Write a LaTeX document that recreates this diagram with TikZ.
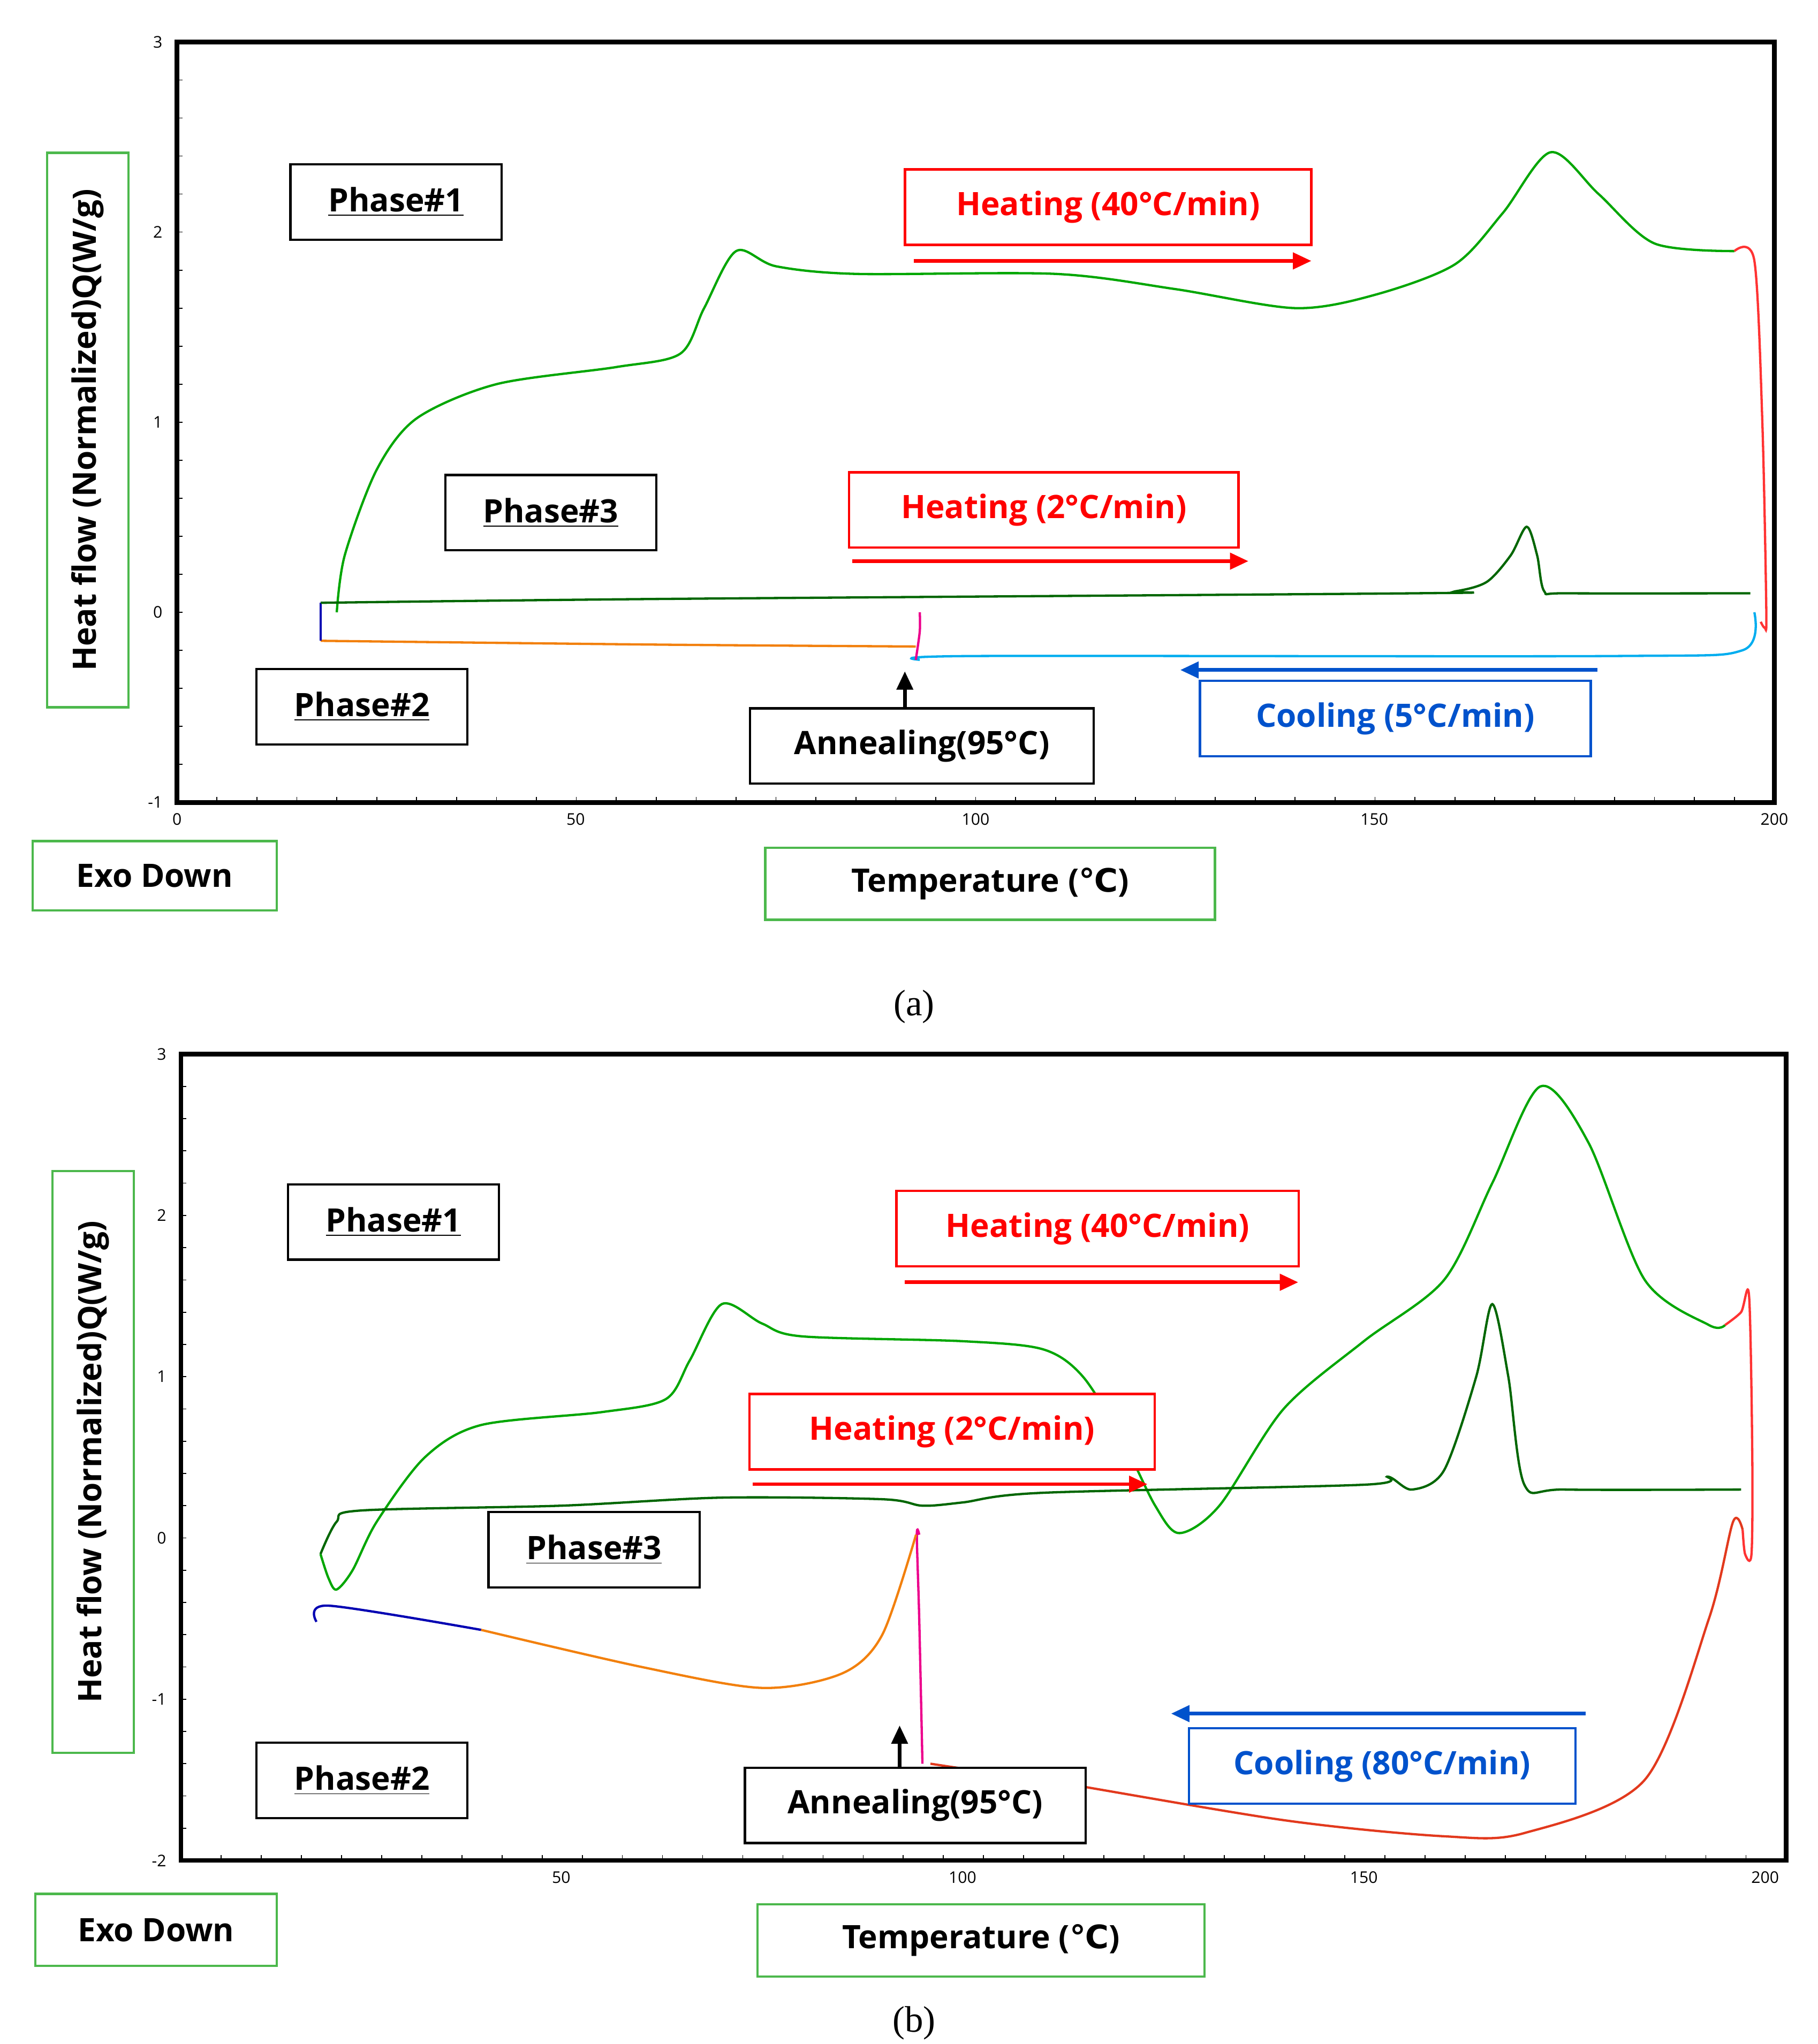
\documentclass[tikz,border=0pt]{standalone}
\usepackage{fontspec}
\setmainfont{Open Sans}
\newfontfamily\capfont{Liberation Serif}
\newfontfamily\degfont{DejaVu Sans}
\usetikzlibrary{positioning}
\usetikzlibrary{arrows.meta}

\newcommand{\degc}{{\degfont\bfseries ℃}}

\tikzset{
  lab/.style={draw=black,line width=1pt,fill=white,font=\fontsize{14}{16}\selectfont\bfseries,minimum height=1.15cm,inner sep=2pt},
  redlab/.style={lab,draw=red,text=red},
  bluelab/.style={lab,draw=blue!60!cyan!80!black,text=blue!60!cyan!80!black},
  greenlab/.style={lab,draw=green!60!black!70},
  arr/.style={-{Triangle[length=8pt,width=7pt]},line width=1.6pt},
  tick/.style={font=\fontsize{7}{8}\selectfont},
  curve/.style={line width=1pt,smooth,tension=0.5}
}

\begin{document}
\begin{tikzpicture}[x=0.02cm,y=-0.02cm]
\useasboundingbox (0,0) rectangle (1386,1559);
%% panel (a)
\draw[line width=2pt] (135,32) rectangle (1353,612);
\foreach \v/\py in {3/32,2/177,1/322,0/467,-1/612}
  \node[tick,left] at (130,\py) {\v};
\foreach \v/\px in {0/135,50/439,100/744,150/1048,200/1353}
  \node[tick,below] at (\px,614) {\v};
\foreach \i in {0,...,40} \draw (135+\i*30.45,612) -- ++(0,-4);
\foreach \i in {0,...,20} \draw (135,32+\i*29) -- ++(4,0);
\begin{scope}[shift={(135,467)},xscale=6.09,yscale=-145]
  \draw[curve,green!65!black] plot coordinates {(20,0) (21,0.3) (25,0.75) (30,1.02) (40,1.2) (55,1.29) (63,1.36) (66,1.6) (70,1.9) (75,1.82) (85,1.78) (110,1.78) (125,1.7) (140,1.6) (150,1.67) (160,1.83) (166,2.1) (172,2.42) (178,2.2) (185,1.94) (195,1.9)};
  \draw[curve,red!80] plot coordinates {(195,1.9) (197.5,1.85) (198.5,1.0) (199,0) (198.8,-0.08) (198.3,-0.05)};
  \draw[curve,cyan] plot coordinates {(197.5,0) (196,-0.2) (180,-0.23) (100,-0.23) (93,-0.25)};
  \draw[curve,magenta] plot coordinates {(92.5,-0.25) (93,-0.1) (93,0)};
  \draw[curve,orange!80!brown] plot coordinates {(92.5,-0.18) (60,-0.17) (18,-0.15)};
  \draw[line width=1pt,blue!70!black] (18,-0.15) -- (18,0.05);
  \draw[curve,green!40!black] plot coordinates {(18,0.05) (60,0.07) (155,0.1) (160,0.11) (164,0.16) (167,0.3) (169,0.45) (170.3,0.3) (171.2,0.11) (174,0.1) (197,0.1)};
\end{scope}
\node[lab,minimum width=3.22cm] (ph1a) at (302,154) {\underline{Phase\#1}};
\node[redlab,minimum width=6.2cm] (h40a) at (845,158) {Heating (40°C/min)};
\node[lab,minimum width=3.22cm] (ph3a) at (420,391) {\underline{Phase\#3}};
\node[redlab,minimum width=5.94cm] (h2a) at (796,389) {Heating (2°C/min)};
\node[lab,minimum width=3.22cm] (ph2a) at (276,539) {\underline{Phase\#2}};
\node[lab,minimum width=5.24cm] (anna) at (703,569) {Annealing(95°C)};
\node[bluelab,minimum width=5.96cm] (coola) at (1064,548) {Cooling (5°C/min)};
\node[greenlab,minimum width=8.46cm,minimum height=1.24cm,rotate=90] (ya) at (67,328) {Heat flow (Normalized)Q(W/g)};
\node[greenlab,minimum width=3.72cm,minimum height=1.06cm] (exoa) at (118,668) {Exo Down};
\node[greenlab,minimum width=6.86cm,minimum height=1.1cm] (tempa) at (755,674) {Temperature (\degc)};
\node[font=\fontsize{16}{18}\selectfont\capfont] (capa) at (697,768) {(a)};
\coordinate (h40as) at (697,199); \coordinate (h40ae) at (1000,199);
\coordinate (h2as) at (650,428); \coordinate (h2ae) at (952,428);
\coordinate (coolas) at (1218,511); \coordinate (coolae) at (900,511);
\coordinate (annae) at (690,512);
\draw[arr,red] (h40as) -- (h40ae);
\draw[arr,red] (h2as) -- (h2ae);
\draw[arr,blue!60!cyan!80!black] (coolas) -- (coolae);
\draw[arr,black] (anna.north -| annae) -- (annae);
%% panel (b)
\draw[line width=2pt] (138,804) rectangle (1362,1419);
\foreach \v/\py in {3/804,2/927,1/1050,0/1173,-1/1296,-2/1419}
  \node[tick,left] at (133,\py) {\v};
\foreach \v/\px in {50/428,100/734,150/1040,200/1346}
  \node[tick,below] at (\px,1421) {\v};
\foreach \i in {1,...,40} \draw (138+\i*30.6,1419) -- ++(0,-4);
\foreach \i in {0,...,25} \draw (138,804+\i*24.6) -- ++(4,0);
\begin{scope}[shift={(122,1173)},xscale=6.12,yscale=-123]
  \draw[curve,green!65!black] plot coordinates {(20,-0.1) (21,-0.25) (22,-0.32) (24,-0.2) (27,0.1) (33,0.5) (40,0.7) (55,0.78) (63,0.86) (66,1.1) (70,1.45) (75,1.33) (80,1.25) (100,1.22) (110,1.17) (115,1.0) (120,0.6) (124,0.2) (127,0.03) (132,0.2) (140,0.8) (150,1.22) (160,1.6) (166,2.2) (172,2.8) (178,2.45) (185,1.6) (193,1.32) (195,1.32)};
  \draw[curve,red!80] plot coordinates {(195,1.32) (197,1.4) (198,1.5) (198.4,0.5) (198.3,-0.1) (197.5,-0.1) (197.2,0.05)};
  \draw[curve,red!55!brown] plot coordinates {(197.2,0.05) (196,0.1) (193,-0.5) (185,-1.5) (170,-1.83) (160,-1.85) (140,-1.75) (110,-1.5) (100,-1.43) (96,-1.4)};
  \draw[curve,magenta] plot coordinates {(95,-1.4) (94.6,-0.5) (94.3,0.02) (94.6,0.02)};
  \draw[curve,orange!80!brown] plot coordinates {(94.2,0.02) (90,-0.6) (85,-0.84) (75,-0.93) (60,-0.8) (40,-0.57)};
  \draw[curve,blue!70!black] plot coordinates {(40,-0.57) (21,-0.42) (19.5,-0.52)};
  \draw[curve,green!40!black] plot coordinates {(20,-0.1) (22,0.1) (25,0.17) (50,0.2) (70,0.25) (90,0.24) (95,0.2) (100,0.22) (110,0.28) (150,0.33) (153,0.38) (156,0.3) (160,0.42) (164,1.0) (166,1.45) (168,1.0) (170,0.33) (175,0.3) (197,0.3)};
\end{scope}
\node[lab,minimum width=3.22cm] (ph1b) at (300,932) {\underline{Phase\#1}};
\node[redlab,minimum width=6.14cm] (h40b) at (837,937) {Heating (40°C/min)};
\node[redlab,minimum width=6.18cm] (h2b) at (726,1092) {Heating (2°C/min)};
\node[lab,minimum width=3.22cm] (ph3b) at (453,1182) {\underline{Phase\#3}};
\node[lab,minimum width=3.22cm] (ph2b) at (276,1358) {\underline{Phase\#2}};
\node[lab,minimum width=5.2cm] (annb) at (698,1377) {Annealing(95°C)};
\node[bluelab,minimum width=5.9cm] (coolb) at (1054,1347) {Cooling (80°C/min)};
\node[greenlab,minimum width=8.88cm,minimum height=1.24cm,rotate=90] (yb) at (71,1115) {Heat flow (Normalized)Q(W/g)};
\node[greenlab,minimum width=3.68cm,minimum height=1.1cm] (exob) at (119,1472) {Exo Down};
\node[greenlab,minimum width=6.82cm,minimum height=1.1cm] (tempb) at (748,1480) {Temperature (\degc)};
\node[font=\fontsize{16}{18}\selectfont\capfont] (capb) at (697,1543) {(b)};
\coordinate (h40bs) at (690,978); \coordinate (h40be) at (990,978);
\coordinate (h2bs) at (574,1132); \coordinate (h2be) at (875,1132);
\coordinate (coolbs) at (1209,1307); \coordinate (coolbe) at (893,1307);
\coordinate (annbe) at (686,1316);
\draw[arr,red] (h40bs) -- (h40be);
\draw[arr,red] (h2bs) -- (h2be);
\draw[arr,blue!60!cyan!80!black] (coolbs) -- (coolbe);
\draw[arr,black] (annb.north -| annbe) -- (annbe);
\end{tikzpicture}
\end{document}
